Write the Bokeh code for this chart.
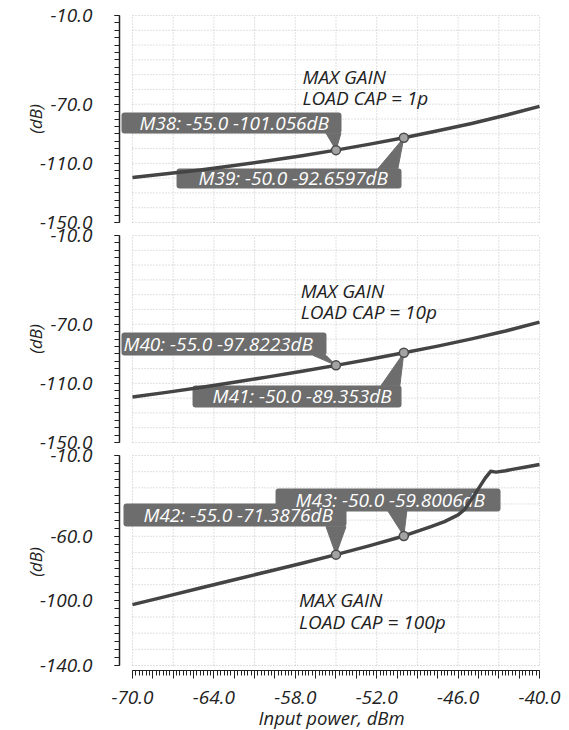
from bokeh.plotting import figure
from bokeh.layouts import column
from bokeh.models import FixedTicker, PrintfTickFormatter
from bokeh.core.properties import value
from bokeh.embed import file_html
from bokeh.resources import INLINE

# ---------------- data ----------------
input_power = [-70.0, -67.5, -65.0, -62.5, -60.0, -57.5, -55.0, -52.5, -50.0, -47.5, -45.0, -42.5, -40.0]
gain_1p = [-119.5, -117.1, -114.5, -111.5, -108.3, -104.8, -101.056, -97.0, -92.6597, -88.0, -83.0, -77.5, -71.5]
gain_10p = [-119.2, -116.1, -112.8, -109.3, -105.6, -101.8, -97.8223, -93.7, -89.353, -84.8, -79.9, -74.6, -68.6]
input_power_100p = [-70.0, -67.5, -65.0, -62.5, -60.0, -57.5, -55.0, -52.5, -50.0, -48.0, -47.0, -46.0,
                    -45.5, -45.0, -44.5, -44.0, -43.6, -43.2, -42.5, -42.0, -41.0, -40.0]
gain_100p = [-102.3, -97.2, -92.0, -86.9, -81.8, -76.7, -71.3876, -65.8, -59.8006, -54.0, -50.9, -46.8,
             -43.2, -37.0, -30.5, -24.0, -19.8, -20.3, -19.4, -18.6, -17.1, -15.6]

marker_power = [-55.0, -50.0]
marker_gain_1p = [-101.056, -92.6597]
marker_gain_10p = [-97.8223, -89.353]
marker_gain_100p = [-71.3876, -59.8006]
marker_names_1p = ["M38", "M39"]
marker_names_10p = ["M40", "M41"]
marker_names_100p = ["M42", "M43"]

notes_1p = ["MAX GAIN", "LOAD CAP = 1p"]
notes_10p = ["MAX GAIN", "LOAD CAP = 10p"]
notes_100p = ["MAX GAIN", "LOAD CAP = 100p"]

x_tick_labels = [-70.0, -64.0, -58.0, -52.0, -46.0, -40.0]
y_tick_labels_upper = [-150.0, -110.0, -70.0, -10.0]
y_tick_labels_lower = [-140.0, -100.0, -60.0, -10.0]
x_label = "Input power, dBm"
y_label = "(dB)"

# ---------------- layout / style ----------------
FONT = "Open Sans"
FS_TICK = "19px"
FS_NOTE = "19px"
FS_CALL = "19px"
FS_YLAB = "17px"
FS_XLAB = "18.5px"
FRAME_W = 424
LEFT_BORDER = 119
RIGHT_BORDER = 18
OVERLAP = 19          # neighbouring panels' canvases overlap so edge tick labels are not clipped
GAP_HALF = 5          # visible space above each lower panel's frame
X_START, X_END = -70.958, -39.705
X_LO, X_HI = -70.0, -40.0
Y_HI = -10.0
X_GRID_STEP, X_MAJOR_STEP, X_MINOR_STEP = 3.0, 1.5, 0.25
Y_GRID_STEP, Y_MINOR_STEP = 10.0, 5.0

CURVE = "#444444"
BOX = "#6d6d6d"
GRID = "#c2c2c2"
INK = "#222222"

# callout geometry in pixels relative to the marker (x right, y down)
CALLOUTS = {
    "M38": dict(box=(-214.5, 5.5, -37.7, -16.7), text_dx=-196.5, tip=(-10, 5, -17)),
    "M39": dict(box=(-227.3, -2.3, 30.7, 50.7), text_dx=-205.3, tip=(-26, -6, 31)),
    "M40": dict(box=(-214.5, -9.5, -32.9, -9.9), text_dx=-212.5, tip=(-23, -10, -10)),
    "M41": dict(box=(-211.3, -2.3, 32.6, 54.6), text_dx=-191.3, tip=(-23, -4, 33)),
    "M42": dict(box=(-212.5, 10.5, -51.1, -28.1), text_dx=-192.5, tip=(-10, 10, -28)),
    "M43": dict(box=(-128.3, 96.7, -47.4, -24.4), text_dx=-108.3, tip=(-16, 3, -25)),
}


def frange(a, b, step):
    n = int(round((b - a) / step))
    return [round(a + i * step, 6) for i in range(n + 1)]


def style_axis_common(ax):
    ax.axis_line_color = INK
    ax.major_tick_line_color = INK
    ax.minor_tick_line_color = INK
    ax.major_label_text_font = FONT
    ax.major_label_text_font_style = "italic"
    ax.major_label_text_font_size = FS_TICK
    ax.major_label_text_color = INK
    ax.axis_label_text_font = FONT
    ax.axis_label_text_font_style = "italic"
    ax.axis_label_text_color = INK


def make_panel(xs, ys, mgain, mnames, notes, note_x, note_y, y_range, y_labels,
               frame_h, top, bottom, x_axis, margin_top):
    y_lo = min(y_labels)
    p = figure(frame_width=FRAME_W, frame_height=frame_h,
               x_range=(X_START, X_END), y_range=y_range,
               output_backend="svg", toolbar_location=None, tools="", title=None,
               x_axis_location="below" if x_axis else None,
               min_border_left=LEFT_BORDER, min_border_right=RIGHT_BORDER,
               min_border_top=top, min_border_bottom=bottom,
               outline_line_color=None, background_fill_color=None,
               border_fill_color=None, margin=(margin_top, 0, 0, 0))
    p.grid.visible = False
    sx = FRAME_W / (X_END - X_START)
    sy = frame_h / (y_range[1] - y_range[0])

    # dotted grid, bounded to the data area
    vx = frange(X_LO, X_HI, X_GRID_STEP)
    p.segment(x0=vx, x1=vx, y0=[y_lo] * len(vx), y1=[Y_HI] * len(vx),
              line_color=GRID, line_width=1, line_dash="1 2")
    hy = frange(y_lo, Y_HI, Y_GRID_STEP)
    p.segment(x0=[X_LO] * len(hy), x1=[X_HI] * len(hy), y0=hy, y1=hy,
              line_color=GRID, line_width=1, line_dash="1 2")

    # marker callouts: boxes first (first marker's box in front), then all texts
    items = list(zip(marker_power, mgain, mnames))
    for mx, my, name in reversed(items):
        c = CALLOUTS[name]
        L, R, T, B = c["box"]
        x1, x2, yb = c["tip"]
        p.patch(x=[mx + x1 / sx, mx + x2 / sx, mx], y=[my - yb / sy, my - yb / sy, my],
                fill_color=BOX, line_color=BOX, line_width=1)
        p.quad(left=mx + L / sx, right=mx + R / sx, top=my - T / sy, bottom=my - B / sy,
               fill_color=BOX, line_color=None, border_radius=3)
    for mx, my, name in items:
        c = CALLOUTS[name]
        L, R, T, B = c["box"]
        p.text(x=[mx + c["text_dx"] / sx], y=[my - (T + B) / 2 / sy],
               text=[f"{name}: {mx:.1f} {my}dB"], text_color="white",
               text_font=value(FONT), text_font_style=value("italic"), text_font_size=value(FS_CALL),
               text_align=value("left"), text_baseline=value("middle"))

    p.line(xs, ys, line_color=CURVE, line_width=3.5, line_join="round")
    p.scatter(marker_power, mgain, size=9, marker="circle", fill_color="#a3a3a3",
              line_color="#4a4a4a", line_width=1.5)

    p.text(x=[note_x] * len(notes), y=note_y, text=notes, text_color=INK,
           text_font=value(FONT), text_font_style=value("italic"), text_font_size=value(FS_NOTE),
           text_align=value("left"), text_baseline=value("middle"))

    ya = p.yaxis[0]
    ya.ticker = FixedTicker(ticks=y_labels, minor_ticks=frange(y_lo, Y_HI, Y_MINOR_STEP))
    ya.formatter = PrintfTickFormatter(format="%.1f")
    ya.bounds = (y_lo, Y_HI)
    ya.major_tick_out, ya.major_tick_in = 5, 0
    ya.minor_tick_out, ya.minor_tick_in = 5, 0
    style_axis_common(ya)
    ya.axis_line_width = 1.5
    ya.major_tick_line_width = 1.2
    ya.minor_tick_line_width = 1.2
    ya.major_label_standoff = 22
    ya.axis_label = y_label
    ya.axis_label_text_font_size = FS_YLAB
    ya.axis_label_standoff = -10

    if x_axis:
        xa = p.xaxis[0]
        major = frange(X_LO, X_HI, X_MAJOR_STEP)
        xa.ticker = FixedTicker(ticks=major, minor_ticks=frange(X_LO, X_HI, X_MINOR_STEP))
        xa.formatter = PrintfTickFormatter(format="%.1f")
        xa.major_label_overrides = {t: "" for t in major if t not in x_tick_labels}
        xa.bounds = (X_LO, X_HI)
        xa.major_tick_out, xa.major_tick_in = 8, 0
        xa.minor_tick_out, xa.minor_tick_in = 5, 0
        style_axis_common(xa)
        xa.major_label_standoff = 12
        xa.axis_label = x_label
        xa.axis_label_text_font_size = FS_XLAB
        xa.axis_label_standoff = -2
    return p


LOWER_TOP = OVERLAP - 7          # top border of the 2nd and 3rd panels
UPPER_BOTTOM = 4 + OVERLAP - 7   # bottom border of the 1st and 2nd panels

p1 = make_panel(input_power, gain_1p, marker_gain_1p, marker_names_1p, notes_1p,
                -57.47, [-51.9, -66.1], (-151.35, -8.65), y_tick_labels_upper, 211,
                13, UPPER_BOTTOM, False, 0)
p2 = make_panel(input_power, gain_10p, marker_gain_10p, marker_names_10p, notes_10p,
                -57.6, [-47.2, -61.9], (-151.35, -8.65), y_tick_labels_upper, 211,
                LOWER_TOP, UPPER_BOTTOM, False, -OVERLAP)
p3 = make_panel(input_power_100p, gain_100p, marker_gain_100p, marker_names_100p, notes_100p,
                -57.73, [-99.4, -113.2], (-143.1, -8.76), y_tick_labels_lower, 217,
                LOWER_TOP, 56, True, -OVERLAP)

layout = column(p1, p2, p3, spacing=0)
open("out.html", "w").write(file_html(layout, INLINE))
